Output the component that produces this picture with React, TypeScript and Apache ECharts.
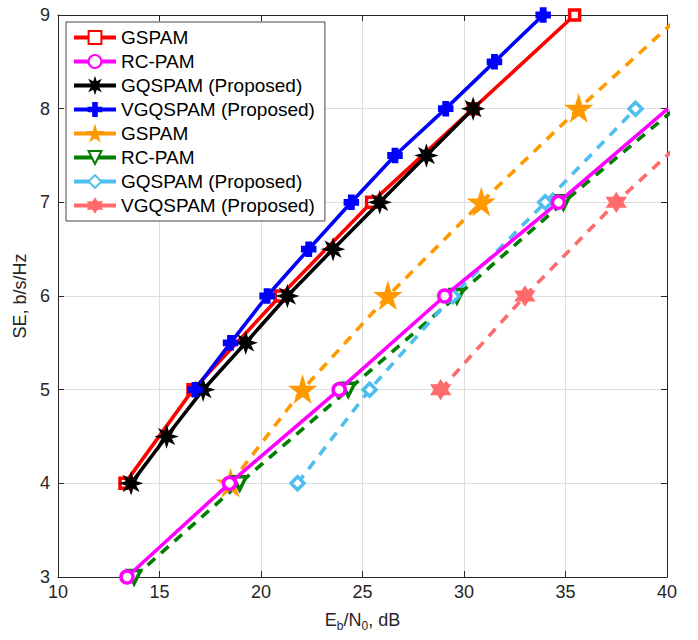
import React, { useEffect, useRef } from "react";
import * as echarts from "echarts";

// Data (x = Eb/N0 in dB, y = SE in b/s/Hz)
const gspamX = [13.3, 16.65, 20.95, 25.45, 30.45, 35.45];
const gspamY = [4, 5, 6, 7, 8, 9];
const rcpamX = [13.4, 18.45, 23.85, 29.05, 34.65, 40.05];
const rcpamY = [3, 4, 5, 6, 7, 8];
const gqspamX = [13.6, 15.35, 17.15, 19.25, 21.3, 23.55, 25.85, 28.15, 30.45];
const gqspamY = [4, 4.5, 5, 5.5, 6, 6.5, 7, 7.5, 8];
const vgqspamX = [16.75, 18.5, 20.3, 22.35, 24.45, 26.6, 29.1, 31.5, 33.9];
const vgqspamY = [5, 5.5, 6, 6.5, 7, 7.5, 8, 8.5, 9];
const gspam2X = [18.5, 22.05, 26.25, 30.85, 35.65, 40.7];
const gspam2Y = [4, 5, 6, 7, 8, 9];
const rcpam2X = [13.75, 18.95, 24.3, 29.65, 34.9, 40.4];
const rcpam2Y = [3, 4, 5, 6, 7, 8];
const gqspam2X = [21.8, 25.35, 29.45, 34.0, 38.45];
const gqspam2Y = [4, 5, 6, 7, 8];
const vgqspam2X = [28.85, 33.0, 37.5, 42.5];
const vgqspam2Y = [5, 6, 7, 8];

const xTicks = [10, 15, 20, 25, 30, 35, 40];
const yTicks = [3, 4, 5, 6, 7, 8, 9];

const ZW = "\u200b";
const names = [
  "GSPAM",
  "RC-PAM",
  "GQSPAM (Proposed)",
  "VGQSPAM (Proposed)",
  "GSPAM" + ZW,
  "RC-PAM" + ZW,
  "GQSPAM (Proposed)" + ZW,
  "VGQSPAM (Proposed)" + ZW,
];

const STAR5 = "path://M50,0L61,35L98,35L68,57L79,91L50,70L21,91L32,57L2,35L39,35Z";
const STAR6 = "path://M50,0L64,25L93,25L79,50L93,75L64,75L50,100L36,75L7,75L21,50L7,25L36,25Z";
const ASTER =
  "path://M50,0L59,28L85.4,14.6L72,41L100,50L72,59L85.4,85.4L59,72L50,100L41,72L14.6,85.4L28,59L0,50L28,41L14.6,14.6L41,28Z";
const PLUS = "path://M36,0H64V36H100V64H64V100H36V64H0V36H36Z";
const TRI_DOWN = "path://M0,0L100,0L50,90Z";

const FONT = "'Liberation Sans', Arial, Helvetica, sans-serif";

function pts(xs: number[], ys: number[], lastBare: boolean) {
  return xs.map((x, i) =>
    lastBare && i === xs.length - 1 ? { value: [x, ys[i]], symbol: "none" } : { value: [x, ys[i]] }
  );
}

export default function App() {
  const ref = useRef<HTMLDivElement>(null);
  useEffect(() => {
    document.body.style.margin = "0";
    const chart = echarts.init(ref.current!, null, { renderer: "svg" });
    const mk = (
      name: string,
      data: any[],
      color: string,
      dashed: boolean,
      symbol: string,
      symbolSize: number,
      fill: string,
      z: number
    ) => ({
      name,
      type: "line",
      data,
      z,
      clip: true,
      symbol,
      symbolSize,
      showAllSymbol: true,
      lineStyle: { color, width: 3.6, type: dashed ? [10, 8] : "solid" },
      itemStyle: { color: fill, borderColor: color, borderWidth: 3.5 },
      emphasis: { disabled: true },
    });
    const option: any = {
      animation: false,
      backgroundColor: "#fff",
      textStyle: { fontFamily: FONT },
      grid: { left: 58, right: 31, top: 15, bottom: 63, show: false },
      legend: {
        orient: "vertical",
        left: 66,
        top: 22,
        backgroundColor: "#fff",
        borderColor: "#444",
        borderWidth: 1,
        borderRadius: 0,
        padding: [6, 10, 6, 6],
        itemGap: 5,
        itemWidth: 42,
        itemHeight: 16,
        selectedMode: false,
        data: names,
        formatter: (n: string) => n.replace(ZW, ""),
        lineStyle: { type: "solid", width: 4 },
        textStyle: { fontSize: 19, color: "#000", fontFamily: FONT },
      },
      xAxis: [
        {
          type: "value",
          min: 10,
          max: 40,
          interval: 5,
          name: "{n|E}{s|b}{n|/N}{s|0}{n|, dB}",
          nameLocation: "middle",
          nameGap: 31,
          nameTextStyle: {
            rich: {
              n: { fontSize: 18, color: "#262626", fontFamily: FONT },
              s: { fontSize: 12, color: "#262626", fontFamily: FONT, padding: [12, 0, 0, 0] },
            },
          },
          axisLine: { show: true, lineStyle: { color: "#262626", width: 1 } },
          axisTick: { show: true, inside: true, length: 6, lineStyle: { color: "#262626" } },
          axisLabel: {
            fontSize: 18,
            color: "#262626",
            margin: 6,
            formatter: (v: number) => (xTicks.includes(v) ? String(v) : ""),
          },
          splitLine: { show: true, lineStyle: { color: "#dedede", width: 1 } },
        },
        {
          type: "value",
          position: "top",
          min: 10,
          max: 40,
          interval: 5,
          axisLine: { show: true, lineStyle: { color: "#262626", width: 1 } },
          axisTick: { show: true, inside: true, length: 6, lineStyle: { color: "#262626" } },
          axisLabel: { show: false },
          splitLine: { show: false },
        },
      ],
      yAxis: [
        {
          type: "value",
          min: 3,
          max: 9,
          interval: 1,
          name: "SE, b/s/Hz",
          nameLocation: "middle",
          nameGap: 24,
          nameRotate: 90,
          nameTextStyle: { fontSize: 18, color: "#262626", fontFamily: FONT },
          axisLine: { show: true, lineStyle: { color: "#262626", width: 1 } },
          axisTick: { show: true, inside: true, length: 6, lineStyle: { color: "#262626" } },
          axisLabel: {
            fontSize: 18,
            color: "#262626",
            margin: 8,
            formatter: (v: number) => (yTicks.includes(v) ? String(v) : ""),
          },
          splitLine: { show: true, lineStyle: { color: "#dedede", width: 1 } },
        },
        {
          type: "value",
          position: "right",
          min: 3,
          max: 9,
          interval: 1,
          axisLine: { show: true, lineStyle: { color: "#262626", width: 1 } },
          axisTick: { show: true, inside: true, length: 6, lineStyle: { color: "#262626" } },
          axisLabel: { show: false },
          splitLine: { show: false },
        },
      ],
      series: [
        mk(names[0], pts(gspamX, gspamY, false), "#ff0000", false, "rect", 10, "#ffffff", 3),
        mk(names[1], pts(rcpamX, rcpamY, true), "#ff00ff", false, "circle", 12, "#ffffff", 3),
        mk(names[2], pts(gqspamX, gqspamY, false), "#000000", false, ASTER, 13, "#000000", 4),
        mk(names[3], pts(vgqspamX, vgqspamY, false), "#0000ff", false, PLUS, 12, "#0000ff", 4),
        mk(names[4], pts(gspam2X, gspam2Y, true), "#ff9900", true, STAR5, 19, "#ff9900", 2),
        mk(names[5], pts(rcpam2X, rcpam2Y, true), "#007f00", true, TRI_DOWN, 13, "#ffffff", 2),
        mk(names[6], pts(gqspam2X, gqspam2Y, false), "#4dbeee", true, "diamond", 13, "#ffffff", 2),
        mk(names[7], pts(vgqspam2X, vgqspam2Y, true), "#ff6b6b", true, STAR6, 15, "#ff6b6b", 2),
      ],
    };
    chart.setOption(option);
    return () => chart.dispose();
  }, []);
  return <div ref={ref} style={{ width: 698, height: 640 }} />;
}
